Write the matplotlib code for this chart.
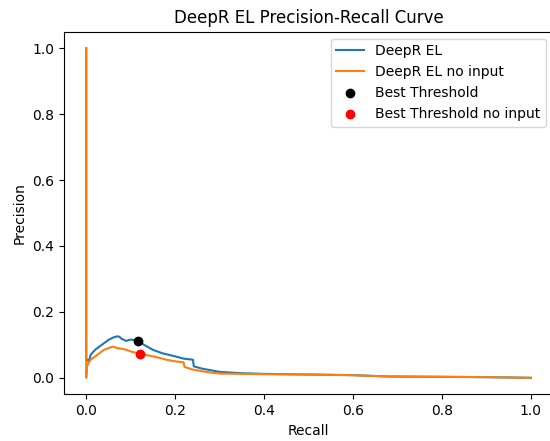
import matplotlib
matplotlib.use('Agg')
import matplotlib.pyplot as plt

# PR curve values
recall_el = [0, 0, 0.003, 0.006, 0.01, 0.02, 0.03, 0.04, 0.05, 0.06, 0.07, 0.075, 0.08,
             0.09, 0.1, 0.116, 0.13, 0.15, 0.17, 0.2, 0.22, 0.24, 0.242, 0.26, 0.28, 0.3,
             0.35, 0.4, 0.5, 0.6, 0.68, 0.8, 0.9, 1.0]
prec_el = [1.0, 0.05, 0.055, 0.05, 0.07, 0.085, 0.095, 0.105, 0.115, 0.122, 0.126, 0.124,
           0.118, 0.112, 0.116, 0.113, 0.1, 0.085, 0.075, 0.065, 0.058, 0.055, 0.035, 0.028,
           0.023, 0.018, 0.014, 0.012, 0.010, 0.008, 0.004, 0.003, 0.002, 0.0]

recall_noin = [0, 0, 0.002, 0.005, 0.01, 0.02, 0.03, 0.04, 0.05, 0.06, 0.07, 0.08, 0.09,
               0.1, 0.12, 0.14, 0.16, 0.18, 0.2, 0.219, 0.221, 0.24, 0.26, 0.28, 0.3, 0.4,
               0.5, 0.6, 0.68, 0.8, 0.9, 1.0]
prec_noin = [1.0, 0.0, 0.035, 0.045, 0.055, 0.065, 0.075, 0.085, 0.09, 0.095, 0.09, 0.088,
             0.085, 0.08, 0.073, 0.068, 0.062, 0.055, 0.05, 0.047, 0.033, 0.025, 0.02,
             0.016, 0.013, 0.011, 0.01, 0.008, 0.004, 0.003, 0.002, 0.0]

best_el = (0.116, 0.113)
best_noin = (0.12, 0.073)

fig = plt.figure(figsize=(5.5, 4.41), dpi=100)
# axes runs past the right edge, like the cropped original
ax = fig.add_axes([64/550, 46.7/441, 489/550, 362.6/441])
ax.plot(recall_el, prec_el, label='DeepR EL')
ax.plot(recall_noin, prec_noin, label='DeepR EL no input')
ax.scatter(best_el[0], best_el[1], color='black', label='Best Threshold', zorder=3)
ax.scatter(best_noin[0], best_noin[1], color='red', label='Best Threshold no input', zorder=3)
ax.set_xlabel('Recall')
ax.set_ylabel('Precision')
ax.set_title('DeepR EL Precision-Recall Curve')
ax.legend(loc='upper right')
fig.savefig('out.png', dpi=100)
